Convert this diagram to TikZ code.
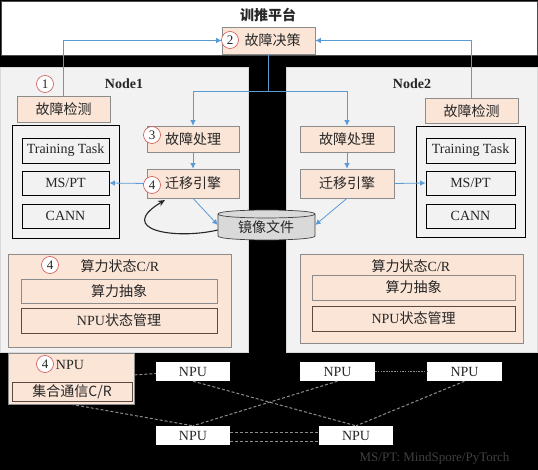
\documentclass[tikz,border=0pt]{standalone}
\usepackage{fontspec}
\setmainfont{Liberation Serif}
\newfontfamily\cjk{Noto Sans CJK SC}
\usetikzlibrary{arrows.meta,calc}
\definecolor{peachc}{HTML}{FBE5D6}
\definecolor{pborder}{HTML}{8C8C8C}
\definecolor{pdark}{HTML}{5A4A42}
\definecolor{panelc}{HTML}{F2F2F2}
\definecolor{panelb}{HTML}{D9D9D9}
\definecolor{txt}{HTML}{262626}
\definecolor{bluec}{HTML}{5B9BD5}
\definecolor{numred}{HTML}{D05050}
\definecolor{dashc}{HTML}{8C8C8C}
\definecolor{cylc}{HTML}{D9D9D9}
\definecolor{footc}{HTML}{404040}
\tikzset{
 base/.style={inner sep=0pt, text=txt, font=\fontsize{14}{16}\selectfont},
 sz/.style 2 args={minimum width=#1pt, minimum height=#2pt},
 peach/.style={base, draw=pborder, fill=peachc, line width=0.6pt},
 panel/.style={draw=panelb, fill=panelc, line width=0.5pt, inner sep=0pt},
 wbox/.style={base, draw=black, fill=panelc, line width=0.8pt},
 npubox/.style={base, fill=white, minimum width=74pt, minimum height=19pt},
 num/.style={circle, draw=numred, fill=white, line width=0.6pt, minimum size=17pt, inner sep=0pt, font=\fontsize{13}{13}\selectfont, text=txt},
 barrow/.style={draw=bluec, line width=0.8pt, -{Latex[length=5.5pt,width=5.5pt]}},
 bline/.style={draw=bluec, line width=0.8pt},
 npul/.style={draw=dashc, line width=1pt, dash pattern=on 3pt off 2pt},
 npudot/.style={draw=dashc, line width=1pt, dash pattern=on 1.5pt off 1.2pt},
 lbl/.style={base},
}
\begin{document}
\begin{tikzpicture}[x=1pt,y=-1pt]
\fill[black] (0,0) rectangle (538,470);
\useasboundingbox (0,0) rectangle (538,470);

% platform
\node[base, draw=black!70, fill=white, line width=0.8pt, sz={536}{54}] (plat) at (269,28) {};
\node[lbl, font=\fontsize{14}{16}\selectfont\cjk\bfseries] (platt) at (268,15) {训推平台};
\node[peach, sz={93}{27}, font=\fontsize{14}{16}\selectfont\cjk] (dec) at (268.5,40.5) {\hspace*{8pt}故障决策};

% panels
\node[panel, sz={248}{285}] (pan1) at (124,209.5) {};
\node[panel, sz={251}{285}] (pan2) at (411.5,209.5) {};
\node[lbl, font=\fontsize{14}{16}\selectfont\bfseries] (n1) at (124,84) {Node1};
\node[lbl, font=\fontsize{14}{16}\selectfont\bfseries] (n2) at (412,84) {Node2};

% detection
\node[peach, sz={93}{26}, font=\fontsize{14}{16}\selectfont\cjk] (det1) at (63.5,109) {故障检测};
\node[peach, sz={93}{25}, font=\fontsize{14}{16}\selectfont\cjk] (det2) at (471.5,111) {故障检测};

% processing / migration
\node[peach, sz={92}{26}, font=\fontsize{14}{16}\selectfont\cjk] (proc1) at (193,139) {故障处理};
\node[peach, sz={94}{26}, font=\fontsize{14}{16}\selectfont\cjk] (proc2) at (347,139) {故障处理};
\node[peach, sz={92}{29}, font=\fontsize{14}{16}\selectfont\cjk] (mig1) at (193,183.5) {迁移引擎};
\node[peach, sz={94}{29}, font=\fontsize{14}{16}\selectfont\cjk] (mig2) at (347,183.5) {迁移引擎};

% software stacks
\node[wbox, sz={107}{113}] (st1) at (65.5,181.5) {};
\node[wbox, sz={87}{25}] (tt1) at (65.5,150.5) {Training Task};
\node[wbox, sz={87}{24}] (ms1) at (65.5,183) {MS/PT};
\node[wbox, sz={87}{24}] (cann1) at (65.5,216) {CANN};
\node[wbox, sz={109}{111}] (st2) at (470.5,181.5) {};
\node[wbox, sz={89}{25}] (tt2) at (470.5,150.5) {Training Task};
\node[wbox, sz={89}{24}] (ms2) at (470.5,183) {MS/PT};
\node[wbox, sz={89}{24}] (cann2) at (470.5,216) {CANN};

% cylinder
\node[base, sz={97}{30}] (cyl) at (266.5,225) {};
\fill[cylc] (218,214) -- (218,236) .. controls (218,241.3) and (315,241.3) .. (315,236) -- (315,214) .. controls (315,208.7) and (218,208.7) .. (218,214) -- cycle;
\draw[black!75, line width=0.7pt] (218,214) -- (218,236) .. controls (218,241.3) and (315,241.3) .. (315,236) -- (315,214) .. controls (315,208.7) and (218,208.7) .. (218,214) -- cycle;
\draw[black!75, line width=0.7pt] (218,214) .. controls (218,219.3) and (315,219.3) .. (315,214);
\node[lbl, font=\fontsize{14}{16}\selectfont\cjk] (cylt) at (266,227.5) {镜像文件};

% compute state C/R
\node[peach, sz={223}{93}] (cr1) at (119.5,300.5) {};
\node[lbl] (cr1t) at (120,266) {{\cjk 算力状态}C/R};
\node[peach, sz={196}{24}, font=\fontsize{14}{16}\selectfont\cjk] (abs1) at (119,291) {算力抽象};
\node[peach, draw=pdark, sz={196}{25}] (nm1) at (119,320.5) {NPU{\cjk 状态管理}};
\node[peach, sz={223}{89}] (cr2) at (411.5,298.5) {};
\node[lbl] (cr2t) at (411,266) {{\cjk 算力状态}C/R};
\node[peach, sz={203}{25}, font=\fontsize{14}{16}\selectfont\cjk] (abs2) at (413.5,287.5) {算力抽象};
\node[peach, draw=pdark, sz={203}{25}] (nm2) at (413.5,318.5) {NPU{\cjk 状态管理}};

% NPU cluster
\node[peach, sz={126}{51}] (bnpu) at (71,378.5) {};
\node[lbl] (bnput) at (70,365) {NPU};
\node[peach, draw=pdark, sz={120}{19}, font=\fontsize{14}{16}\selectfont\cjk] (comm) at (72,391.5) {集合通信C/R};
\node[npubox] (na) at (193,371.5) {NPU};
\node[npubox, minimum width=75pt] (nb) at (337.5,371.5) {NPU};
\node[npubox, minimum width=75pt] (nc) at (464.5,371.5) {NPU};
\node[npubox] (nd) at (193,435.5) {NPU};
\node[npubox] (ne) at (356,435.5) {NPU};

\draw[npul] (bnpu) -- (na);
\draw[npul] (bnpu.south) -- (nd.north);
\draw[npul] (na.south) -- (ne.north);
\draw[npul] (nb.south) -- (nd.north);
\draw[npul] (nc.south) -- (ne.north);
\draw[npudot] (nb.east) -- (nc.west);
\draw[npul] ($(nd.east)+(0,-3.5)$) -- ($(ne.west)+(0,-3.5)$);
\draw[npul] ($(nd.east)+(0,5.5)$) -- ($(ne.west)+(0,5.5)$);

\node[base, font=\fontsize{13}{15}\selectfont, text=footc] (foot) at (434.5,458) {MS/PT: MindSpore/PyTorch};

% blue connectors
\draw[barrow] (det1.north) |- (dec.west);
\draw[barrow] (det2.north) |- (dec.east);
\coordinate (split) at (268.5,91);
\draw[bline] (dec.south) -- (split);
\draw[barrow] (split) -| (proc1.north);
\draw[barrow] (split) -| (proc2.north);
\draw[barrow] (proc1) -- (mig1);
\draw[barrow] (proc2) -- (mig2);
\draw[barrow] (mig1.west) -- (ms1.east);
\draw[barrow] (mig2.east) -- (ms2.west);
\draw[barrow] (mig1.south) -- (cyl.west);
\draw[barrow] (mig2.south) -- (cyl.east);
\draw[black!85, line width=1.1pt, -{Stealth[length=7pt,width=6pt]}] ($(cyl.west)+(0,5)$) .. controls (175,240) and (115,230) .. (165,200);

% numbered circles
\node[num] (c1) at (45,84) {1};
\node[num] (c2) at (230,40) {2};
\node[num] (c3) at (152,135) {3};
\node[num] (c4a) at (152,185) {4};
\node[num] (c4b) at (50,265) {4};
\node[num] (c4c) at (45,364) {4};
\end{tikzpicture}
\end{document}
